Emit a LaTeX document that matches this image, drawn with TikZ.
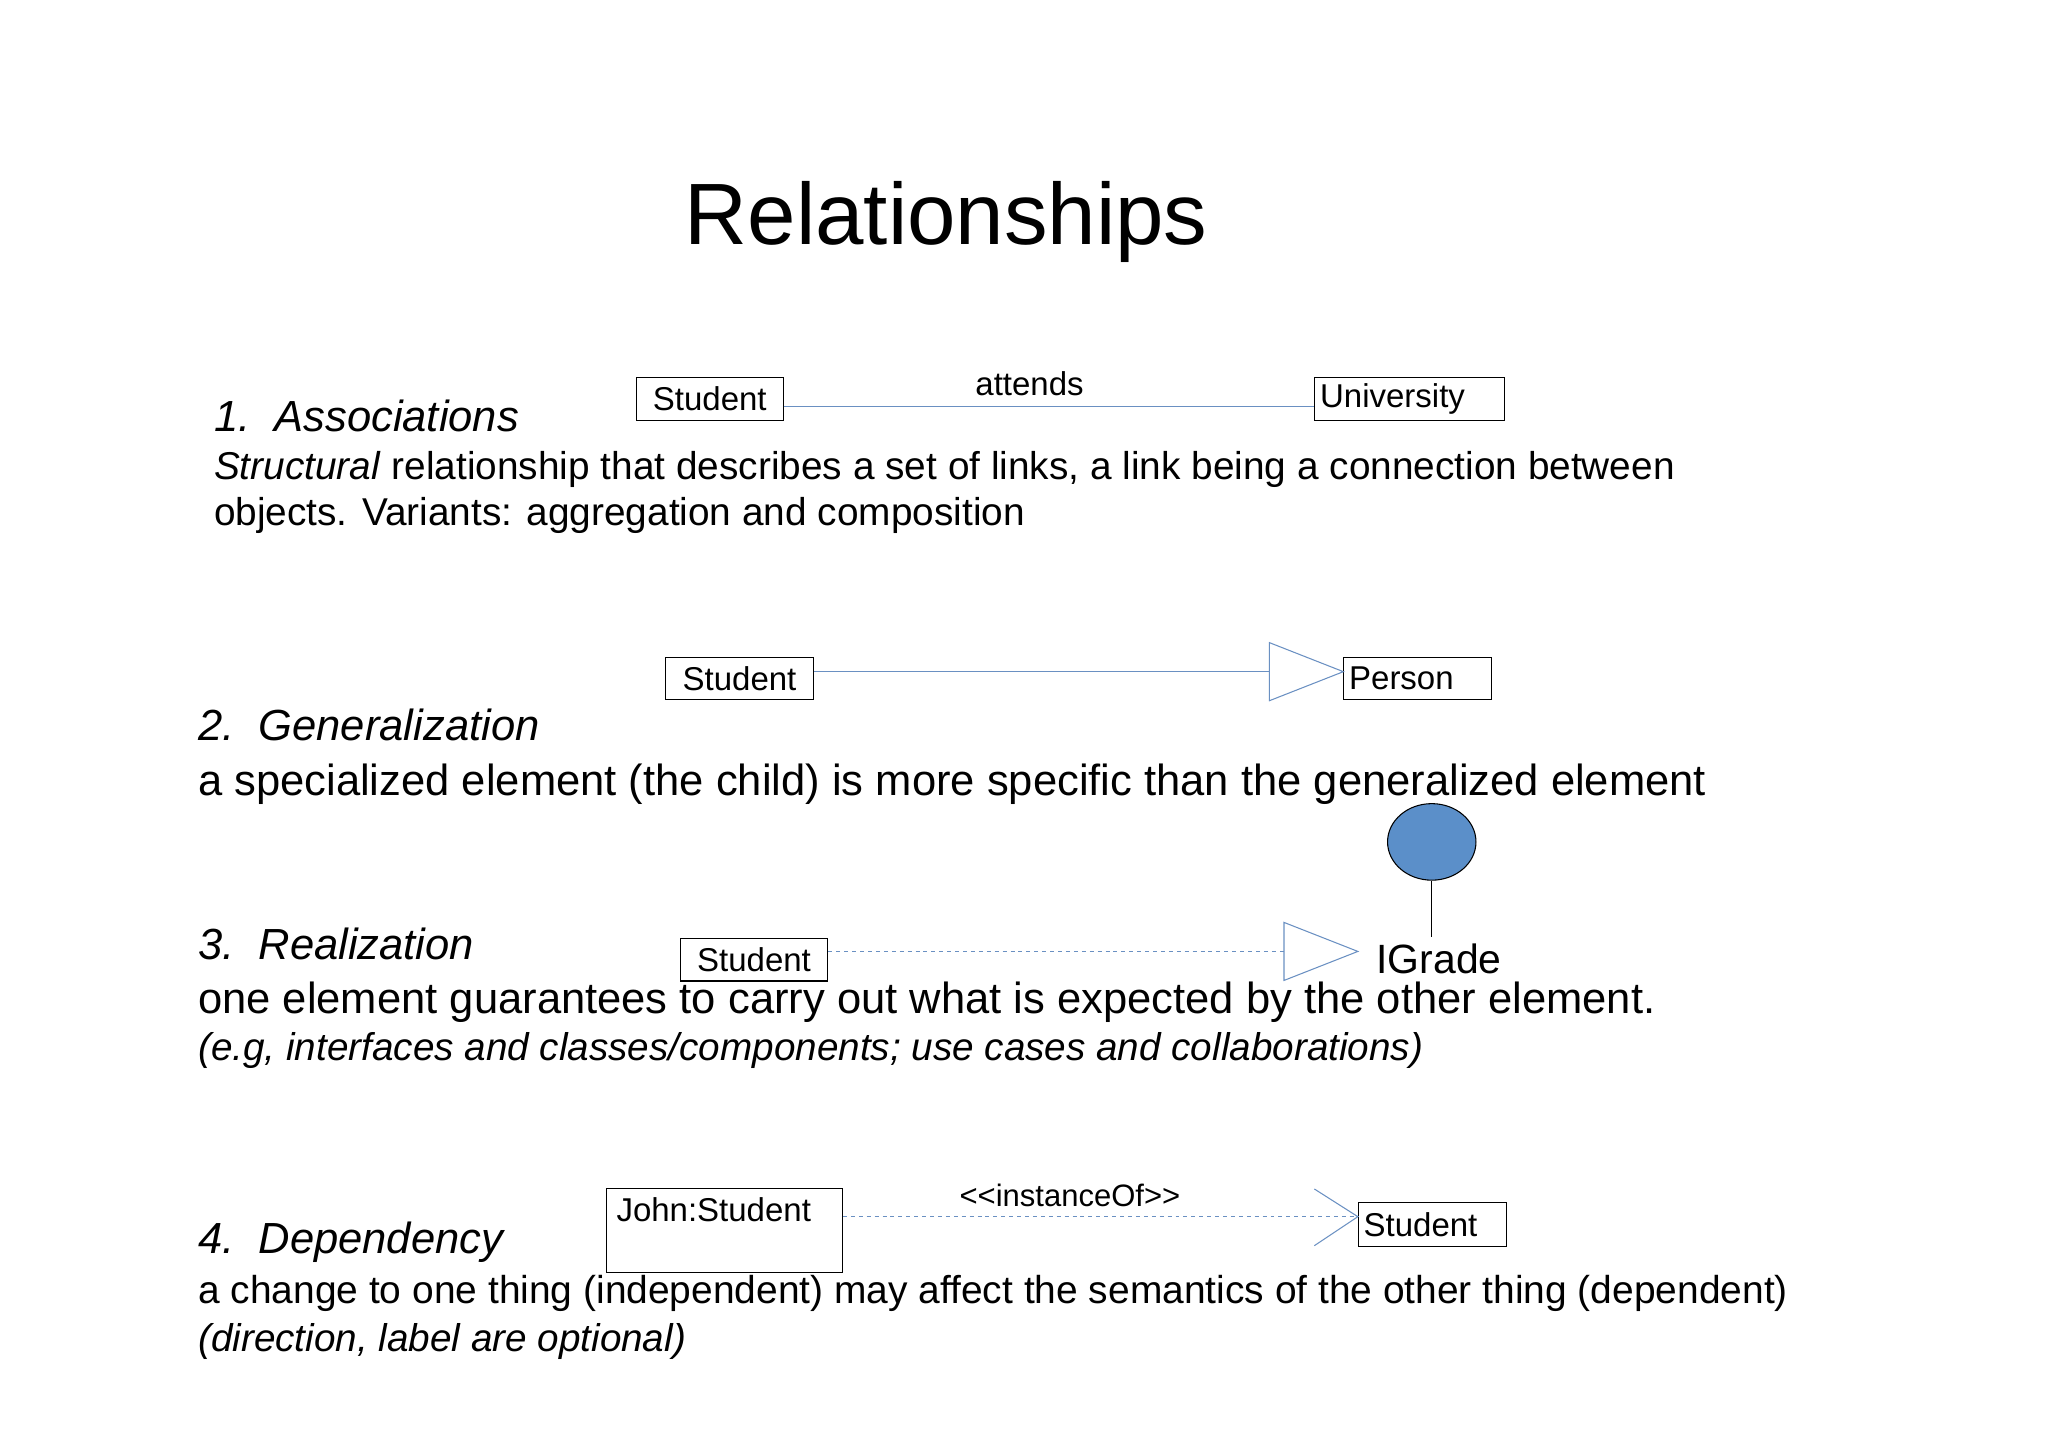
\documentclass[tikz,border=0pt]{standalone}
\usepackage{fontspec}
\usetikzlibrary{shapes.geometric}
\setmainfont{Liberation Sans}
\begin{document}
\begin{tikzpicture}[x=1pt,y=-1pt,
  box/.style={draw,thick,inner sep=0pt,anchor=north west,font=\fontsize{25}{27}\selectfont},
  txt/.style={anchor=base west,inner sep=0pt},
  blue line/.style={draw=uml,thick},
  head/.style={anchor=base west,inner sep=0pt,font=\fontsize{33}{36}\selectfont\itshape},
  body/.style={anchor=base west,inner sep=0pt,font=\fontsize{33}{36}\selectfont},
  note/.style={anchor=base west,inner sep=0pt,font=\fontsize{29.3}{32}\selectfont\itshape}]
\definecolor{uml}{HTML}{6A90C2}
\definecolor{ifill}{HTML}{5B8FC9}
\useasboundingbox (0,0) rectangle (1552,1097);
\node[inner sep=0pt] (title) at (717,168) {\fontsize{66}{70}\selectfont Relationships};
% 1
\node[head] (h1) at (162,327) {1.\ \ Associations};
\node[box,minimum width=111pt,minimum height=32pt] (s1) at (482,286) {Student};
\node[box,minimum width=144pt,minimum height=32pt,text width=136pt,align=left] (u1) at (996,286) {University};
\draw[blue line] (s1.east |- 0,308) coordinate (a1) -- (u1.west |- 0,308) coordinate (a2);
\node[txt,font=\fontsize{25}{27}\selectfont] (att) at (739,300) {attends};
\node[body,font=\fontsize{29.4}{35}\selectfont] (b1) at (162,363) {\textit{Structural} relationship that describes a set of links, a link being a connection between};
\node[body,font=\fontsize{29.4}{35}\selectfont] (b1b) at (162,398) {objects. Variants: aggregation and composition};
% 2
\node[box,minimum width=112pt,minimum height=32pt] (s2) at (504,498) {Student};
\node[box,minimum width=112pt,minimum height=32pt,text width=104pt,align=left] (p2) at (1018,498) {Person};
\coordinate (t2) at (962,509);
\draw[blue line] (s2.east |- 0,509) -- (t2);
\draw[blue line] (962,487) -- (p2.west |- 0,509) -- (962,531) -- cycle;
\node[head] (h2) at (150,561) {2.\ \ Generalization};
\node[body] (b2) at (150,603) {a specialized element (the child) is more specific than the generalized element};
% 3
\node[draw,thick,fill=ifill,ellipse,minimum width=67pt,minimum height=58pt,inner sep=0pt] (ig) at (1085,638) {};
\coordinate (igl) at (1085,710);
\draw[thick] (ig.south) -- (igl);
\node[txt,font=\fontsize{31}{33}\selectfont] (igt) at (1043,738) {IGrade};
\node[head] (h3) at (150,727) {3.\ \ Realization};
\node[box,minimum width=112pt,minimum height=32pt] (s3) at (515,711) {Student};
\coordinate (t3) at (973,721);
\draw[blue line,dashed] (s3.east |- 0,721) -- (t3);
\draw[blue line] (973,699) -- (1029,721) -- (973,743) -- cycle;
\node[body] (b3) at (150,768) {one element guarantees to carry out what is expected by the other element.};
\node[note] (n3) at (150,804) {(e.g, interfaces and classes/components; use cases and collaborations)};
% 4
\node[box,minimum width=179pt,minimum height=64pt] (j4) at (459,900) {};
\node[txt,font=\fontsize{25}{27}\selectfont] (j4t) at (467,926) {John:Student};
\node[box,minimum width=112pt,minimum height=33pt,text width=104pt,align=left] (s4) at (1029,911) {Student};
\draw[blue line,dashed] (j4.east |- 0,922) -- (s4.west |- 0,922);
\draw[blue line] (996,901) -- (s4.west |- 0,922) -- (996,944);
\node[txt,font=\fontsize{23.5}{26}\selectfont] (io) at (727,914) {<{}<instanceOf>{}>};
\node[head] (h4) at (150,950) {4.\ \ Dependency};
\node[body,font=\fontsize{29.5}{36}\selectfont] (b4) at (150,988) {a change to one thing (independent) may affect the semantics of the other thing (dependent)};
\node[note] (n4) at (150,1024) {(direction, label are optional)};
\end{tikzpicture}
\end{document}
